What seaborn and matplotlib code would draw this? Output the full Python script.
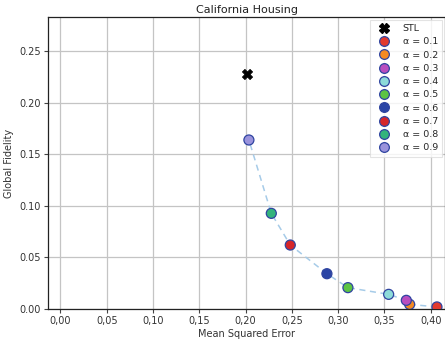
import matplotlib
matplotlib.use("Agg")
import matplotlib.pyplot as plt
from matplotlib.ticker import FuncFormatter, MultipleLocator
from matplotlib.lines import Line2D
import seaborn as sns
import pandas as pd

# Results of the alpha sweep on California Housing
alphas = [0.1, 0.2, 0.3, 0.4, 0.5, 0.6, 0.7, 0.8, 0.9]
mse = [0.4068, 0.3773, 0.3737, 0.3546, 0.3106, 0.2879, 0.2483, 0.2278, 0.2036]
fidelity = [0.0020, 0.0045, 0.0084, 0.0142, 0.0207, 0.0342, 0.0620, 0.0927, 0.1638]

# Baseline
stl_mse = [0.2011]
stl_fidelity = [0.2277]

colors = ["#e23a2e", "#f58a22", "#b84dbf", "#8ddbd9", "#5cc444",
          "#2b45a6", "#d6262a", "#33b47c", "#9a93dc"]

df = pd.DataFrame({"alpha": alphas, "mse": mse, "fidelity": fidelity})
df["label"] = [f"α = {a}" for a in alphas]

sns.set_theme(style="whitegrid")
plt.rcParams["font.family"] = ["DejaVu Sans"]

fig = plt.figure(figsize=(4.45, 3.43), dpi=100)
ax = fig.add_axes([48 / 445, 34 / 343, 397 / 445, 292 / 343])

sns.lineplot(data=df, x="mse", y="fidelity", ax=ax, color="#a6cbe8",
             linestyle=(0, (4, 3)), linewidth=1.1, sort=False, zorder=2)

sns.scatterplot(x=stl_mse, y=stl_fidelity, ax=ax, marker="X", color="black",
                s=55, edgecolor="black", linewidth=0.5, zorder=4)

sns.scatterplot(data=df, x="mse", y="fidelity", hue="label",
                palette=colors, ax=ax, s=52, edgecolor="#2f44a0",
                linewidth=0.9, zorder=3, legend=False)

ax.set_xlim(-0.0135, 0.4155)
ax.set_ylim(0, 0.283)
ax.xaxis.set_major_locator(MultipleLocator(0.05))
ax.yaxis.set_major_locator(MultipleLocator(0.05))
ax.xaxis.set_major_formatter(FuncFormatter(lambda v, p: f"{v:.2f}".replace(".", ",")))
ax.yaxis.set_major_formatter(FuncFormatter(lambda v, p: f"{v:.2f}"))

ax.grid(True, color="#c4c4c4", linewidth=0.9)
for side in ["left", "bottom", "top", "right"]:
    ax.spines[side].set_color("#222222")
    ax.spines[side].set_linewidth(0.9)
ax.tick_params(axis="both", labelsize=7, length=3, width=0.8,
               color="#444444", labelcolor="#333333", pad=2, bottom=True, left=True)

ax.set_xlabel("Mean Squared Error", fontsize=7, color="#333333", labelpad=2)
ax.set_ylabel("Global Fidelity", fontsize=7, color="#333333", labelpad=4)
ax.set_title("California Housing", fontsize=8, color="#222222", pad=3)

handles = [Line2D([], [], marker="X", color="black", linestyle="none",
                  markersize=7, label="STL")]
for lab, c in zip(df["label"], colors):
    handles.append(Line2D([], [], marker="o", linestyle="none", markersize=7,
                          markerfacecolor=c, markeredgecolor="#2f44a0",
                          markeredgewidth=0.9, label=lab))
leg = ax.legend(handles=handles, loc="upper right", fontsize=6.8,
                frameon=True, borderpad=0.45, labelspacing=0.45,
                handletextpad=1.0, borderaxespad=0.3, fancybox=False)
leg.get_frame().set_edgecolor("#dddddd")
leg.get_frame().set_linewidth(0.8)

fig.savefig("out.png", dpi=100)
